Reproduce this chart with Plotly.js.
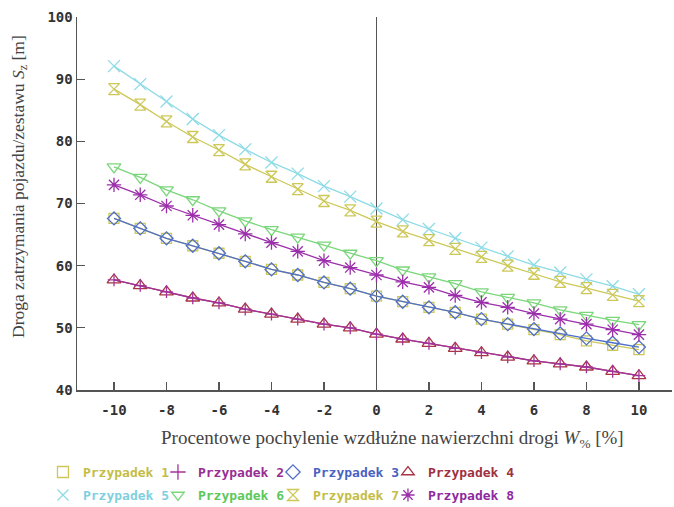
<!DOCTYPE html>
<html>
<head>
<meta charset="utf-8">
<script src="https://cdn.plot.ly/plotly-3.0.1.min.js"></script>
<style>html,body{margin:0;padding:0;background:#fff;}#chart{width:674px;height:507px;}</style>
</head>
<body>
<div id="chart"></div>
<script>
const slope = [-10,-9,-8,-7,-6,-5,-4,-3,-2,-1,0,1,2,3,4,5,6,7,8,9,10];
const case1 = [67.6,66.0,64.4,63.2,62.0,60.7,59.4,58.5,57.3,56.3,55.1,54.2,53.3,52.5,51.4,50.6,49.7,48.9,47.9,47.2,46.5];
const case2 = [57.7,56.8,55.8,54.8,54.0,53.0,52.2,51.4,50.6,50.0,49.0,48.2,47.5,46.7,46.0,45.3,44.7,44.2,43.7,43.0,42.3];
const case3 = [67.6,66.0,64.4,63.2,62.0,60.7,59.4,58.5,57.3,56.3,55.1,54.2,53.3,52.5,51.4,50.6,49.8,49.1,48.3,47.6,46.9];
const case4 = [57.7,56.8,55.8,54.8,54.0,53.0,52.2,51.4,50.6,50.0,49.0,48.2,47.5,46.7,46.0,45.3,44.7,44.2,43.7,43.0,42.3];
const case5 = [92.1,89.2,86.4,83.6,81.0,78.7,76.6,74.8,72.8,71.1,69.2,67.4,65.9,64.4,62.9,61.5,60.1,58.9,57.8,56.7,55.4];
const case6 = [75.9,74.2,72.2,70.6,68.8,67.2,65.8,64.6,63.3,62.0,60.8,59.3,58.2,57.1,55.8,54.9,54.0,52.9,52.0,51.2,50.5];
const case7 = [88.4,85.9,83.2,80.7,78.6,76.3,74.3,72.3,70.4,68.9,67.1,65.5,64.1,62.7,61.4,60.0,58.7,57.4,56.4,55.3,54.3];
const case8 = [73.0,71.4,69.6,68.1,66.6,65.1,63.7,62.3,60.8,59.7,58.5,57.4,56.5,55.2,54.1,53.3,52.3,51.4,50.6,49.7,48.9];
const names = ['Przypadek 1','Przypadek 2','Przypadek 3','Przypadek 4','Przypadek 5','Przypadek 6','Przypadek 7','Przypadek 8'];
const xTickVals = [-10,-8,-6,-4,-2,0,2,4,6,8,10];
const yTickVals = [40,50,60,70,80,90,100];

const series = [case1,case2,case3,case4,case5,case6,case7,case8];
const colors = ['#cdc857','#a2339c','#5070c8','#a83444','#8cdbe6','#7ad67a','#cdc857','#9b2eaa'];
const textColors = ['#c4bd45','#982e94','#4a62c2','#a03040','#7fd0de','#5cc85c','#c4bd45','#8e2aa0'];
const symbols = ['square-open','cross-thin-open','diamond-open','triangle-up-open','x-thin-open','triangle-down-open','hourglass-open','asterisk-open'];
const sizes = [10,9,10,12,12,12,11,12];
const order = [0,2,5,7,4,6,3,1];

const traces = order.map(i => ({
  x: slope, y: series[i], type: 'scatter', mode: 'lines+markers',
  showlegend: false,
  line: {color: colors[i], width: 1.3},
  marker: {symbol: symbols[i], size: sizes[i], color: colors[i], line: {color: colors[i], width: 1.3}}
}));
// legend entries: marker symbols only
names.forEach((n, i) => {
  traces.push({
    x: [null], y: [null], type: 'scatter', mode: 'markers',
    name: '<span style="color:' + textColors[i] + '">' + n + '</span>',
    legend: i < 4 ? 'legend' : 'legend2',
    legendrank: i + 1,
    marker: {symbol: symbols[i], size: 11, color: colors[i], line: {color: colors[i], width: 1.3}}
  });
});
// invisible spacer entries so the last column's text is not clipped
['legend', 'legend2'].forEach(lg => {
  traces.push({
    x: [null], y: [null], type: 'scatter', mode: 'markers', name: ' ',
    legend: lg, legendrank: 99, hoverinfo: 'skip',
    marker: {size: 1, opacity: 0, color: 'rgba(0,0,0,0)'}
  });
});

const tickFont = {family: 'DejaVu Sans Mono', size: 14, color: '#333', weight: 'bold'};
const legFont = {family: 'DejaVu Sans Mono', size: 13, weight: 'bold'};

const layout = {
  width: 674, height: 507,
  margin: {l: 77, r: 2, t: 17, b: 117, autoexpand: false},
  paper_bgcolor: '#fff', plot_bgcolor: '#fff',
  showlegend: true,
  xaxis: {
    range: [-11.41, 11.26], tickvals: xTickVals, ticktext: xTickVals.map(String),
    showgrid: false, zeroline: true, zerolinecolor: '#555', zerolinewidth: 1.5,
    showline: true, linecolor: '#555', linewidth: 1.5,
    ticks: 'inside', ticklen: 8, tickcolor: '#555', tickwidth: 1.2,
    ticklabelstandoff: 7, automargin: false,
    tickfont: tickFont
  },
  yaxis: {
    range: [40, 100], tickvals: yTickVals, ticktext: yTickVals.map(String),
    showgrid: false, zeroline: false,
    showline: true, linecolor: '#555', linewidth: 1.5,
    ticks: 'inside', ticklen: 8, tickcolor: '#555', tickwidth: 1.2,
    automargin: false,
    tickfont: tickFont
  },
  legend: {
    orientation: 'h', x: -0.0572, xanchor: 'left', y: -0.22, yanchor: 'middle',
    xref: 'paper', yref: 'paper', entrywidth: 70, entrywidthmode: 'pixels',
    font: legFont, itemwidth: 30, tracegroupgap: 0, bgcolor: 'rgba(0,0,0,0)'
  },
  legend2: {
    orientation: 'h', x: -0.0572, xanchor: 'left', y: -0.2816, yanchor: 'middle',
    xref: 'paper', yref: 'paper', entrywidth: 70, entrywidthmode: 'pixels',
    font: legFont, itemwidth: 30, tracegroupgap: 0, bgcolor: 'rgba(0,0,0,0)'
  },
  annotations: [
    {text: 'Procentowe pochylenie wzdłużne nawierzchni drogi <i>W</i><sub>%</sub> [%]',
     xref: 'paper', yref: 'paper', x: 0.531, y: -0.131, xanchor: 'center', yanchor: 'middle',
     showarrow: false, font: {family: 'Liberation Serif', size: 19, color: '#444'}},
    {text: 'Droga zatrzymania pojazdu/zestawu <i>S</i><sub>z</sub> [m]',
     xref: 'paper', yref: 'paper', x: -0.097, y: 0.545, xanchor: 'center', yanchor: 'middle',
     textangle: -90, showarrow: false, font: {family: 'Liberation Serif', size: 17.5, color: '#444'}}
  ]
};

Plotly.newPlot('chart', traces, layout, {displayModeBar: false, staticPlot: true});
</script>
</body>
</html>
